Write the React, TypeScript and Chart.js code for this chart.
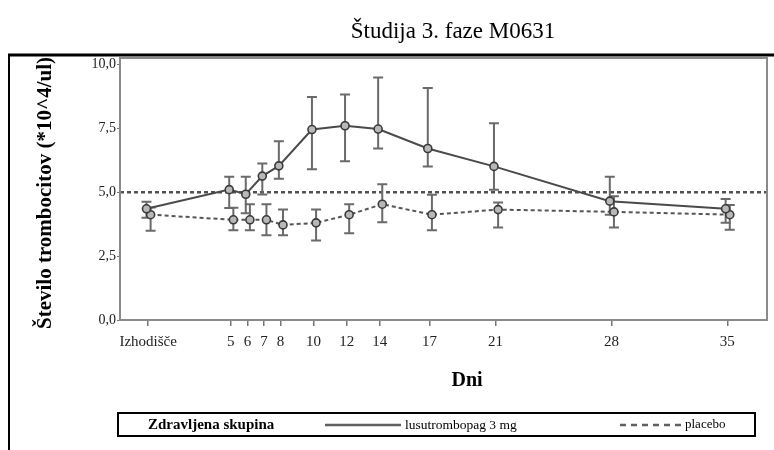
import { useEffect, useRef } from 'react';
import { Chart, registerables } from 'chart.js';

Chart.register(...registerables);

const FONT = '"Liberation Serif", "Times New Roman", serif';

// ---- data ----
const titleText = 'Študija 3. faze M0631';
const yTitle = 'Število trombocitov (*10^4/ul)';
const xTitle = 'Dni';
const legendTitle = 'Zdravljena skupina';
const seriesNames = ['lusutrombopag 3 mg', 'placebo'];

const days = [0, 5, 6, 7, 8, 10, 12, 14, 17, 21, 28, 35];
const dayLabels = ['Izhodišče', '5', '6', '7', '8', '10', '12', '14', '17', '21', '28', '35'];
const yTicks = [0, 2.5, 5, 7.5, 10];
const refValue = 5;

const treatMean = [4.35, 5.1, 4.92, 5.63, 6.03, 7.45, 7.6, 7.47, 6.71, 6.01, 4.65, 4.35];
const treatLow = [4.0, 4.38, 4.18, 4.91, 5.53, 5.9, 6.21, 6.71, 6.01, 5.1, 4.12, 3.8];
const treatHigh = [4.63, 5.6, 5.6, 6.12, 6.99, 8.72, 8.82, 9.49, 9.08, 7.7, 5.6, 4.73];

const placeboMean = [4.12, 3.92, 3.92, 3.92, 3.72, 3.8, 4.12, 4.53, 4.12, 4.32, 4.23, 4.12];
const placeboLow = [3.49, 3.51, 3.51, 3.32, 3.32, 3.11, 3.39, 3.82, 3.51, 3.62, 3.62, 3.53];
const placeboHigh = [4.4, 4.39, 4.53, 4.53, 4.32, 4.32, 4.53, 5.31, 4.9, 4.6, 4.84, 4.5];

const dodge = [-0.1, 0.15];

export default function App() {
  const ref = useRef<HTMLCanvasElement>(null);

  useEffect(() => {
    if (!ref.current) return;
    const lows = [treatLow, placeboLow];
    const highs = [treatHigh, placeboHigh];

    const decor = {
      id: 'decor',
      beforeDatasetsDraw(chart: any) {
        const { ctx, chartArea: a, scales } = chart;
        const x = scales.x;
        const y = scales.y;
        ctx.save();
        // reference line
        const y5 = y.getPixelForValue(refValue);
        ctx.strokeStyle = '#505050';
        ctx.lineWidth = 2.5;
        ctx.setLineDash([4, 3]);
        ctx.beginPath();
        ctx.moveTo(a.left, y5);
        ctx.lineTo(a.right, y5);
        ctx.stroke();
        ctx.setLineDash([]);
        // error bars
        ctx.strokeStyle = '#6a6a6a';
        ctx.lineWidth = 2;
        for (let s = 0; s < 2; s++) {
          for (let i = 0; i < days.length; i++) {
            const px = x.getPixelForValue(days[i] + dodge[s]);
            const pl = y.getPixelForValue(lows[s][i]);
            const ph = y.getPixelForValue(highs[s][i]);
            ctx.beginPath();
            ctx.moveTo(px, pl);
            ctx.lineTo(px, ph);
            ctx.moveTo(px - 5, pl);
            ctx.lineTo(px + 5, pl);
            ctx.moveTo(px - 5, ph);
            ctx.lineTo(px + 5, ph);
            ctx.stroke();
          }
        }
        ctx.restore();
      },
      afterDraw(chart: any) {
        const { ctx, chartArea: a } = chart;
        ctx.save();
        // plot box
        ctx.strokeStyle = '#8a8a8a';
        ctx.lineWidth = 2;
        ctx.strokeRect(a.left, a.top, a.right - a.left, a.bottom - a.top);
        // outer frame
        ctx.strokeStyle = '#000';
        ctx.lineWidth = 3;
        ctx.beginPath();
        ctx.moveTo(8, 55);
        ctx.lineTo(774, 55);
        ctx.stroke();
        ctx.lineWidth = 2;
        ctx.beginPath();
        ctx.moveTo(9, 55);
        ctx.lineTo(9, 450);
        ctx.stroke();
        // title
        ctx.fillStyle = '#000';
        ctx.textAlign = 'center';
        ctx.textBaseline = 'middle';
        ctx.font = `23px ${FONT}`;
        ctx.fillText(titleText, 453, 32);
        // x title
        ctx.font = `bold 20px ${FONT}`;
        ctx.fillText(xTitle, 467, 381);
        // y title
        ctx.save();
        ctx.translate(46, 193);
        ctx.rotate(-Math.PI / 2);
        ctx.font = `bold 21px ${FONT}`;
        ctx.fillText(yTitle, 0, 0);
        ctx.restore();
        // legend
        ctx.strokeStyle = '#000';
        ctx.lineWidth = 2;
        ctx.strokeRect(118, 413, 637, 23);
        ctx.textAlign = 'left';
        ctx.font = `bold 15px ${FONT}`;
        ctx.fillText(legendTitle, 148, 425);
        ctx.font = `13.5px ${FONT}`;
        ctx.strokeStyle = '#606060';
        ctx.lineWidth = 2.5;
        ctx.beginPath();
        ctx.moveTo(325, 425);
        ctx.lineTo(401, 425);
        ctx.stroke();
        ctx.fillText(seriesNames[0], 405, 425);
        ctx.lineWidth = 2.5;
        ctx.setLineDash([6, 5]);
        ctx.beginPath();
        ctx.moveTo(620, 425);
        ctx.lineTo(681, 425);
        ctx.stroke();
        ctx.setLineDash([]);
        ctx.font = `13px ${FONT}`;
        ctx.fillText(seriesNames[1], 685, 425);
        ctx.restore();
      },
    };

    const mk = (vals: number[], s: number) => vals.map((v, i) => ({ x: days[i] + dodge[s], y: v }));

    const chart = new Chart(ref.current, {
      type: 'line',
      data: {
        datasets: [
          {
            label: seriesNames[0],
            data: mk(treatMean, 0),
            borderColor: '#4a4a4a',
            borderWidth: 2,
            pointRadius: 4,
            pointBorderWidth: 1.6,
            pointBorderColor: '#3a3a3a',
            pointBackgroundColor: '#b8b8b8',
            tension: 0,
          },
          {
            label: seriesNames[1],
            data: mk(placeboMean, 1),
            borderColor: '#555',
            borderWidth: 2,
            borderDash: [4, 3],
            pointRadius: 4,
            pointBorderWidth: 1.6,
            pointBorderColor: '#3a3a3a',
            pointBackgroundColor: '#b8b8b8',
            tension: 0,
          },
        ],
      },
      options: {
        animation: false,
        responsive: false,
        devicePixelRatio: 1,
        layout: { padding: { top: 58, right: 7, bottom: 50, left: 0 } },
        plugins: { legend: { display: false }, tooltip: { enabled: false } },
        scales: {
          x: {
            type: 'linear',
            min: -1.7,
            max: 37.4,
            afterBuildTicks: (s: any) => {
              s.ticks = days.map((d) => ({ value: d }));
            },
            afterFit: (s: any) => {
              s.height = 80;
            },
            ticks: {
              autoSkip: false,
              maxRotation: 0,
              padding: 7,
              color: '#222',
              font: { family: FONT, size: 15 },
              callback: (v: any) => {
                const i = days.indexOf(Number(v));
                return i >= 0 ? dayLabels[i] : '';
              },
            },
            grid: { drawOnChartArea: false, tickLength: 6, color: '#777', lineWidth: 1.5 },
            border: { color: '#8a8a8a', width: 2 },
          },
          y: {
            min: 0,
            max: 10.25,
            afterBuildTicks: (s: any) => {
              s.ticks = yTicks.map((v) => ({ value: v }));
            },
            afterFit: (s: any) => {
              s.width = 120;
            },
            ticks: {
              padding: 1,
              color: '#222',
              font: { family: FONT, size: 14 },
              callback: (v: any) => Number(v).toFixed(1).replace('.', ','),
            },
            grid: { drawOnChartArea: false, tickLength: 3, color: '#777', lineWidth: 1 },
            border: { color: '#8a8a8a', width: 2 },
          },
        },
      },
      plugins: [decor],
    });
    return () => chart.destroy();
  }, []);

  return (
    <div style={{ position: 'absolute', left: 0, top: 0, width: 774, height: 450, background: '#fff' }}>
      <canvas ref={ref} width={774} height={450} style={{ display: 'block' }} />
    </div>
  );
}
